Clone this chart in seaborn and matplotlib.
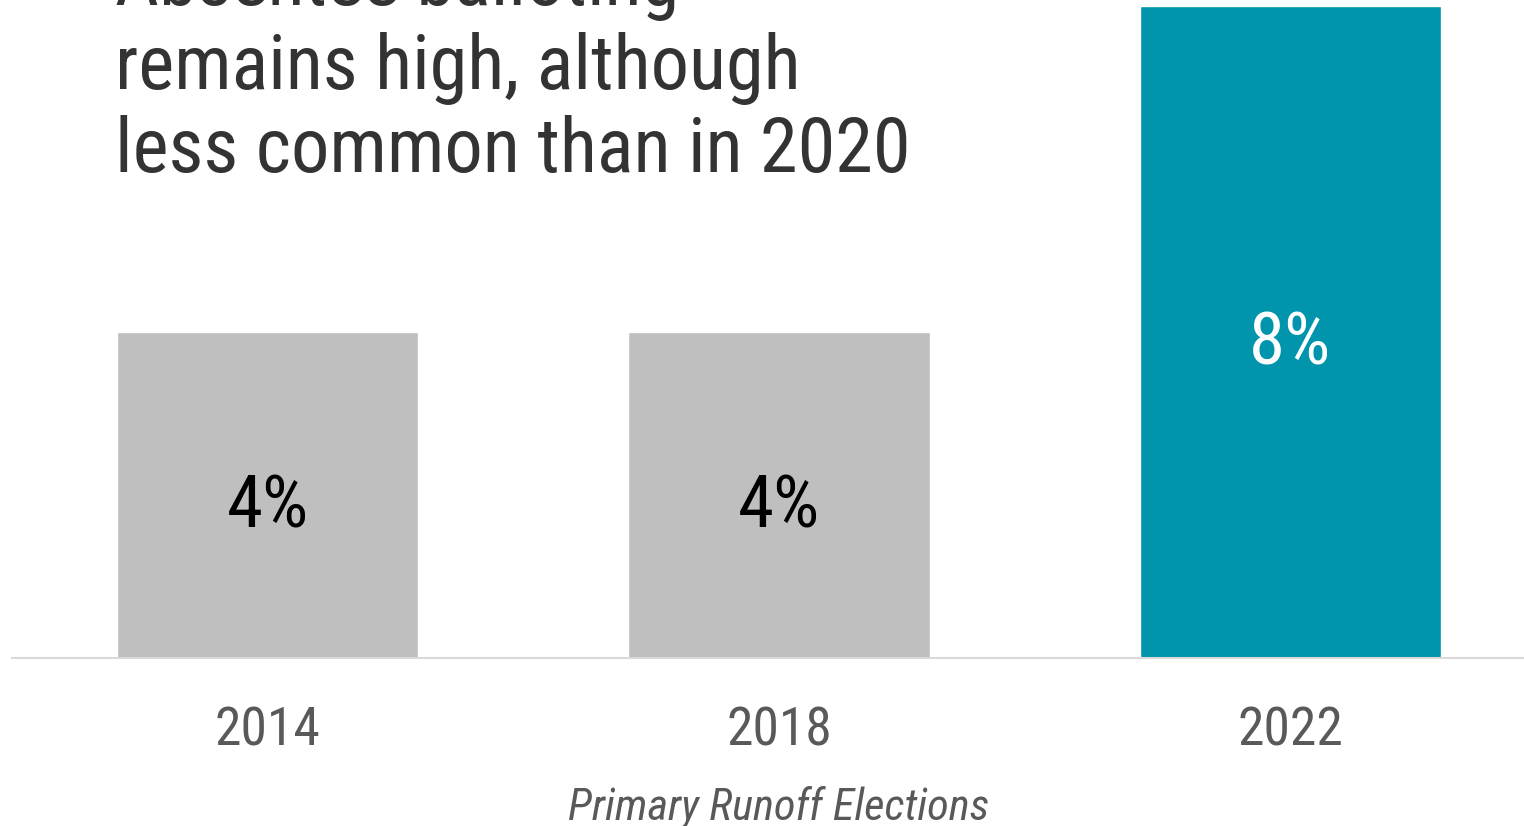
import matplotlib
matplotlib.use("Agg")
import matplotlib.pyplot as plt
import matplotlib.transforms as mtransforms
import seaborn as sns
import pandas as pd

years = ["2014", "2018", "2022"]
values = [4, 4, 8]
labels = ["4%", "4%", "8%"]
bar_colors = ["#bfbfbf", "#bfbfbf", "#0095ad"]
label_colors = ["#000000", "#000000", "#ffffff"]
title = "Absentee balloting\nremains high, although\nless common than in 2020"
xlabel = "Primary Runoff Elections"

sns.set_theme(style="white")
FONT = ["Roboto Condensed", "Roboto", "DejaVu Sans"]
plt.rcParams["font.family"] = FONT

df = pd.DataFrame({"year": years, "value": values})

fig = plt.figure(figsize=(15.24, 8.26), dpi=100)
ax = fig.add_axes([12 / 1524, (826 - 658) / 826, (1546 - 12) / 1524, (658 - 6) / 826])

sns.barplot(data=df, x="year", y="value", hue="year", palette=bar_colors,
            width=0.589, legend=False, ax=ax, saturation=1)

ax.set_xlim(-0.5, 2.5)
ax.set_ylim(0, 8)
ax.set_yticks([])
ax.set_ylabel("")
for s in ["top", "right", "left"]:
    ax.spines[s].set_visible(False)
ax.spines["bottom"].set_color("#d9d9d9")
ax.spines["bottom"].set_linewidth(1.5)
ax.tick_params(axis="x", length=0, pad=34, labelsize=38.5, labelcolor="#595959")
ax.set_xlabel(xlabel, fontsize=32, color="#595959", style="italic", labelpad=21)

offset = mtransforms.offset_copy(ax.transData, fig=fig, x=0, y=-13, units="dots")
for i, (v, lab, c) in enumerate(zip(values, labels, label_colors)):
    ax.text(i, v / 2, lab, ha="center", va="center", fontsize=52.6, color=c,
            transform=offset)

fig.text(115 / 1524, 1 - 172 / 826, title, ha="left", va="baseline",
         fontsize=55, color="#333333", linespacing=1.18)

fig.savefig("out.png", dpi=100)
